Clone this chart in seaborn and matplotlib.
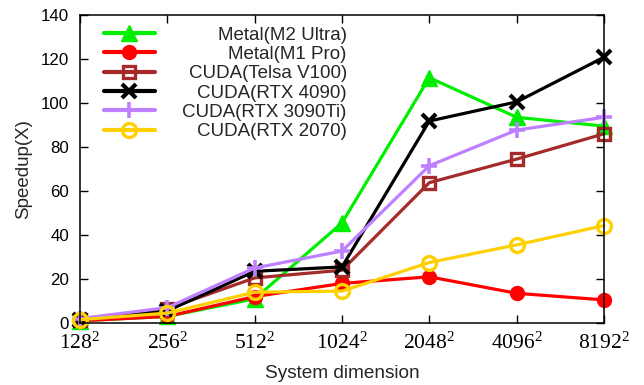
import numpy as np
import pandas as pd
import matplotlib
matplotlib.use("Agg")
import matplotlib.pyplot as plt
import seaborn as sns

# ---- data ----
sizes = ["128", "256", "512", "1024", "2048", "4096", "8192"]
m2_ultra = [1.0, 3.0, 11.0, 45.5, 111.5, 93.5, 89.5]
m1_pro = [1.0, 3.0, 12.0, 18.0, 21.0, 13.5, 10.5]
v100 = [1.5, 6.5, 20.5, 24.0, 63.8, 74.5, 86.0]
rtx4090 = [1.5, 5.5, 23.5, 25.5, 91.8, 100.5, 120.8]
rtx3090ti = [2.0, 7.0, 25.0, 32.7, 71.5, 87.7, 93.5]
rtx2070 = [1.5, 4.5, 14.0, 14.5, 27.5, 35.5, 44.3]

names = ["Metal(M2 Ultra)", "Metal(M1 Pro)", "CUDA(Telsa V100)",
         "CUDA(RTX 4090)", "CUDA(RTX 3090Ti)", "CUDA(RTX 2070)"]
series = [m2_ultra, m1_pro, v100, rtx4090, rtx3090ti, rtx2070]
colors = ["#00ee00", "#ff0000", "#a52a2a", "#000000", "#bf80ff", "#ffd000"]
styles = [
    dict(marker="^", ms=11, mfc="C", mew=1),
    dict(marker="o", ms=10, mfc="C", mew=1),
    dict(marker="s", ms=9, mfc="none", mew=2.4),
    dict(marker="x", ms=10, mfc="C", mew=3),
    dict(marker="+", ms=11, mfc="C", mew=2.6),
    dict(marker="o", ms=10, mfc="none", mew=2.4),
]

rows = []
for n, vals in zip(names, series):
    for i, v in enumerate(vals):
        rows.append({"series": n, "pos": i, "speedup": v})
df = pd.DataFrame(rows)

sns.set_style("ticks")
plt.rcParams["font.family"] = ["Liberation Sans", "DejaVu Sans"]

fig = plt.figure(figsize=(6.44, 3.85), dpi=100)
ax = fig.add_axes([80 / 644, 1 - 323 / 385, 524 / 644, 308 / 385])

for n, c, st in zip(names, colors, styles):
    sub = df[df["series"] == n]
    mfc = c if st["mfc"] == "C" else "none"
    sns.lineplot(data=sub, x="pos", y="speedup", ax=ax, color=c, linewidth=2.3,
                 marker=st["marker"], markersize=st["ms"], markerfacecolor=mfc,
                 markeredgecolor=c, markeredgewidth=st["mew"], label=n,
                 clip_on=False, zorder=3)

ax.set_xlim(0, 6)
ax.set_ylim(0, 140)
ax.set_yticks(np.arange(0, 141, 20))
ax.set_xticks(range(len(sizes)))
ax.set_xticklabels([r"$\mathregular{%s^{2}}$" % s for s in sizes],
                   fontfamily="Liberation Serif", fontsize=15.5)
ax.tick_params(axis="y", labelsize=12.2, pad=8)
ax.tick_params(direction="in", length=6, width=1, top=True, right=True,
               colors="black")
ax.tick_params(axis="x", pad=7)
for sp in ax.spines.values():
    sp.set_linewidth(1.1)
    sp.set_color("black")
    sp.set_zorder(5)

ax.set_xlabel("System dimension", fontsize=13.7, labelpad=8)
ax.set_ylabel("Speedup(X)", fontsize=13.5)
ax.yaxis.set_label_coords(-0.092, 0.5)

leg = ax.legend(loc="upper left", bbox_to_anchor=(0.0, 1.0), frameon=False,
                fontsize=13.5, handlelength=2.75, handletextpad=1.45,
                labelspacing=0.12, borderaxespad=0.0,
                bbox_transform=ax.transAxes)
for h in leg.legend_handles:
    h.set_linewidth(3)

# right-align legend texts
fig.canvas.draw()
r = fig.canvas.get_renderer()
widths = [t.get_window_extent(r).width for t in leg.get_texts()]
mw = max(widths)
for t, w in zip(leg.get_texts(), widths):
    t.set_position((mw - w, 0))

# shift legend so its handles start near x=102 px, first row near y=32 px
fig.canvas.draw()
bb = leg.legend_handles[0].get_window_extent(r)
H = fig.bbox.height
tb = leg.get_texts()[0].get_window_extent(r)
dx = 96 - bb.x0
dy = (H - (tb.y0 + tb.y1) / 2) - 35
ax_bb = ax.get_window_extent(r)
leg.set_bbox_to_anchor((dx / ax_bb.width, 1.0 + dy / ax_bb.height),
                       transform=ax.transAxes)

fig.savefig("out.png", dpi=100)
